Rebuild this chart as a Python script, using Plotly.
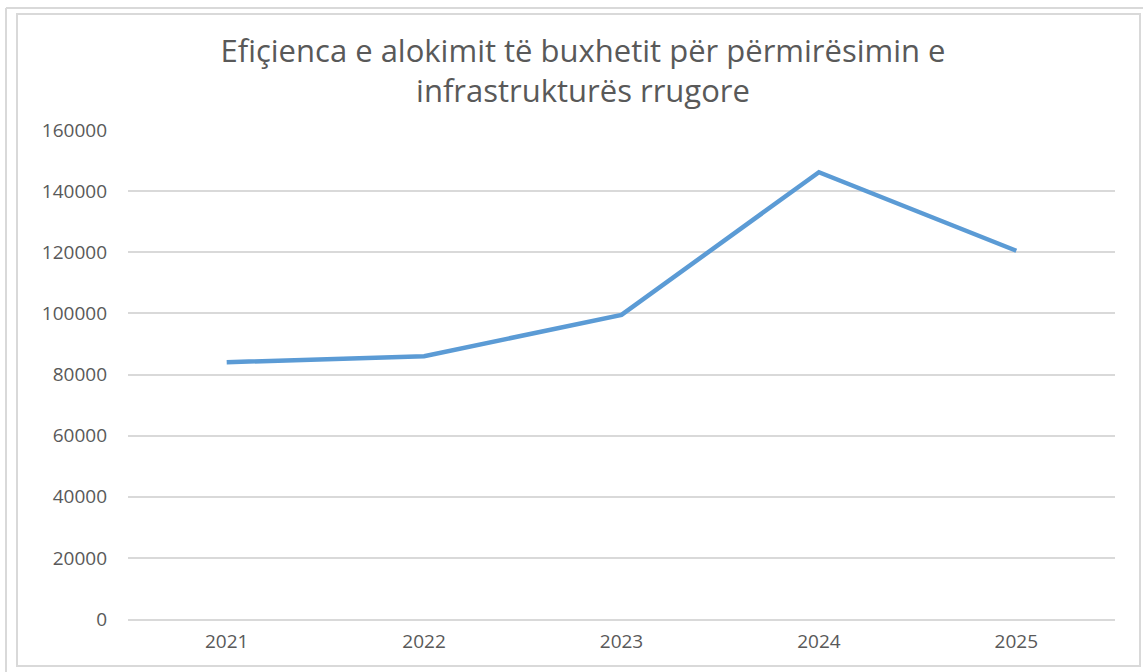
import plotly.graph_objects as go

years = ["2021", "2022", "2023", "2024", "2025"]
budget = [84000, 86000, 99500, 146200, 120500]
ytick_vals = [0, 20000, 40000, 60000, 80000, 100000, 120000, 140000, 160000]
ytick_text = ["0", "20000", "40000", "60000", "80000", "100000", "120000", "140000", "160000"]
title_text = "Efiçienca e alokimit të buxhetit për përmirësimin e<br>infrastrukturës rrugore"

W, H = 1143, 672
ml, mr, mt, mb = 128, 28, 130, 53
pw, ph = W - ml - mr, H - mt - mb


def px_x(x):
    return (x - ml) / pw


def px_y(y):
    return (H - mb - y) / ph


fig = go.Figure()
fig.add_trace(go.Scatter(x=years, y=budget, mode="lines",
                         line=dict(color="#5B9BD5", width=4.5),
                         showlegend=False))

# frame lines like the screenshot
gray = "#D9D9D9"
fig.add_shape(type="rect", xref="paper", yref="paper",
              x0=px_x(17), x1=px_x(1140), y0=px_y(666), y1=px_y(14),
              line=dict(color=gray, width=2), layer="below")
fig.add_shape(type="line", xref="paper", yref="paper",
              x0=px_x(6), x1=px_x(1143), y0=px_y(8), y1=px_y(8),
              line=dict(color=gray, width=2))
fig.add_shape(type="line", xref="paper", yref="paper",
              x0=px_x(6), x1=px_x(6), y0=px_y(8), y1=px_y(672),
              line=dict(color=gray, width=2))

fig.update_layout(
    width=W, height=H,
    margin=dict(l=ml, r=mr, t=mt, b=mb),
    paper_bgcolor="white", plot_bgcolor="white",
    title=dict(text=title_text, x=583 / W, xref="container", xanchor="center",
               y=1 - 62 / H, yref="container", yanchor="middle",
               font=dict(family="Open Sans", size=31, color="#595959")),
    font=dict(family="Open Sans", color="#595959"),
)
fig.update_xaxes(type="category", range=[-0.5, 4.5], showgrid=False,
                 showline=True, linecolor="#D9D9D9", linewidth=2,
                 ticks="", tickfont=dict(size=19, color="#595959"),
                 ticklabelstandoff=4, fixedrange=True)
fig.update_yaxes(range=[0, 160000], tickvals=ytick_vals, ticktext=ytick_text,
                 showgrid=True, gridcolor="#D9D9D9", gridwidth=2,
                 zeroline=False, showline=False, ticks="",
                 tickfont=dict(size=19, color="#595959"),
                 ticklabelstandoff=20, fixedrange=True)

fig.write_html("out.html", config={"displayModeBar": False},
               post_script="document.body.style.margin='0';")
